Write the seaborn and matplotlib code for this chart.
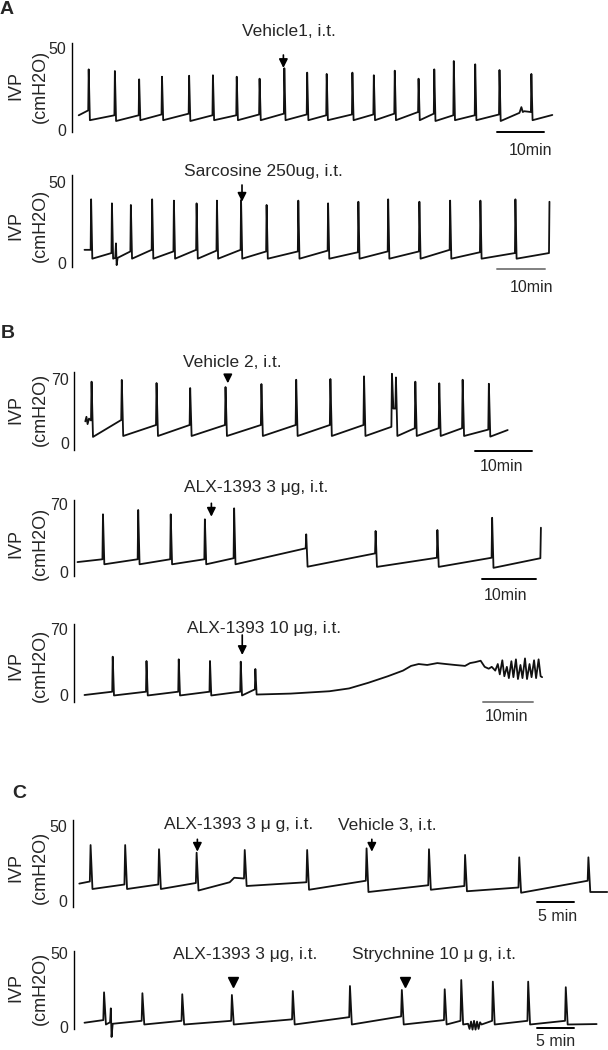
import matplotlib
matplotlib.use('Agg')
import numpy as np
import pandas as pd
import seaborn as sns
import matplotlib.pyplot as plt

# ---- data (time in min, pressure in cmH2O) ----
# A1: vehicle 1
a1_start = 9.0
a1_void_t = [2.0, 7.5, 12.6, 17.4, 23.1, 28.1, 33.1, 37.9, 43.1, 47.9, 52.0, 57.4, 61.9, 66.3, 71.3, 74.6, 78.7, 83.2, 88.3, 95.0]
a1_pre = [12, 9, 9, 9.5, 10, 9, 9, 9.5, 10, 9.5, 9, 9.5, 9.5, 10, 11, 10, 9, 9, 9.5, 11]
a1_peak = [37.1, 36.1, 31.0, 32.6, 33.2, 33.5, 32.6, 31.4, 37.8, 35.1, 34.3, 35.1, 33.5, 36.3, 31.4, 37.1, 42.2, 40.2, 36.7, 34.3]
a1_trough = [6, 5.5, 6, 6, 5.5, 6, 6, 6, 6, 6, 6, 6, 6, 6, 6, 5.5, 6, 6, 5.5, 6]
a1_extra_t = [92.6, 93.0, 93.3, 93.6]
a1_extra_v = [10.5, 14.0, 11.0, 11.5]
a1_end = (99.5, 9.2)
a1_inject = [43.0]

# A2: sarcosine 250ug
a2_start = 8.0
a2_void_t = [1.3, 5.7, 9.7, 14.2, 18.8, 23.6, 27.9, 33.0, 38.4, 45.1, 51.4, 57.8, 64.1, 70.7, 77.2, 83.6, 91.0, 98.2]
a2_pre = [8, 6, 7, 8, 7, 8, 7.5, 8, 7, 7, 7.5, 6.5, 7, 7, 8, 6.5, 6, 6]
a2_peak = [39.4, 36.9, 35.9, 39.4, 38.6, 36.9, 38.6, 39.0, 35.9, 38.6, 36.9, 37.9, 39.4, 37.9, 38.6, 38.6, 39.4, 37.9]
a2_trough = [2.5] * 17
a2_extra_t = [6.5, 6.65, 6.8, 7.0]
a2_extra_v = [3.0, 12.0, -1.5, 3.0]
a2_end = None
a2_inject = [33.3]

# B1: vehicle 2
b1_start = 24.0
b1_void_t = [1.0, 6.3, 12.4, 18.3, 24.5, 30.8, 36.9, 42.9, 48.8, 53.7, 54.4, 57.8, 62.0, 66.1, 70.7]
b1_pre = [25, 25.5, 20, 20, 20, 20, 20, 20, 20, 18, 38, 16.5, 16.5, 16.5, 15]
b1_peak = [67.4, 69.3, 65.9, 60.4, 61.5, 64.8, 69.5, 70.3, 73.2, 76.0, 72.0, 67.4, 65.6, 69.5, 65.1]
b1_trough = [7, 8, 8, 8, 8, 8, 8, 8, 8, 38, 8, 8, 8, 8, 7.3]
b1_extra_t = [0.2, 0.4, 0.65]
b1_extra_v = [29, 21, 27]
b1_end = (74.1, 14.5)
b1_inject = [25.0]

# B2: ALX-1393 3 ug
b2_start = 10.0
b2_void_t = [4.6, 11.1, 17.1, 23.4, 28.8, 42.1, 54.9, 66.3, 76.4, 85.4]
b2_pre = [12.9, 12.9, 12.9, 12.9, 14, 24.3, 19, 14.5, 14.5, 14]
b2_peak = [59.6, 64.1, 59.6, 54.4, 65.8, 38.8, 42.3, 43.3, 56.0, 45.7]
b2_trough = [7.7, 7.7, 7.7, 7.7, 7.7, 5.2, 5.0, 5.0, 4.0]
b2_extra_t = []
b2_extra_v = []
b2_end = None
b2_inject = [24.7]

# B3: ALX-1393 10 ug
b3_start = 0.0
b3_void_t = [5.5, 12.2, 18.6, 24.8, 30.9, 33.8]
b3_pre = [3.5, 3.5, 3.5, 3.5, 3.5, 6.0]
b3_peak = [40.8, 36.2, 38.0, 36.2, 35.5, 27.7]
b3_trough = [-0.5, -0.5, -0.5, -0.5, -0.5, 0.5]
b3_extra_t = [40.9, 48.6, 52.5, 56.3, 60.2, 63.2, 64.8, 66.3, 68.0, 70.0, 71.7, 73.5, 75.5, 76.5, 77.5, 78.6, 79.4,
              80.2, 80.8, 81.5, 82.0, 82.4, 82.9, 83.3, 83.8, 84.2, 84.7, 85.1, 85.6, 86.0, 86.5, 86.9, 87.4,
              87.8, 88.3, 88.7, 89.2, 89.6, 90.1, 90.5]
b3_extra_v = [1.5, 4, 7, 13, 20, 26, 31, 33, 32, 34, 33, 32, 31, 34, 35, 36.5, 30,
              28, 30, 26, 33, 22, 37, 20, 30, 18, 36, 19, 38, 17, 32, 18, 39,
              17, 33, 19, 37, 18, 38, 20]
b3_end = (90.8, 19.0)
b3_inject = [31.3]

# C1: ALX-1393 3 ug then vehicle 3
c1_start = 11.6
c1_void_t = [1.4, 6.0, 10.5, 15.5, 21.9, 30.2, 38.1, 46.4, 51.2, 58.4, 67.6]
c1_pre = [13, 11, 11, 12, 15, 12.5, 13.5, 10.5, 10, 9, 13.5]
c1_peak = [37.3, 37.3, 34.5, 32.2, 34.0, 34.0, 35.1, 34.5, 30.7, 29.1, 29.1]
c1_trough = [8, 8, 8, 7, 10, 7.5, 6, 7.5, 6.5, 5.5, 6]
c1_extra_t = [20.0, 20.6]
c1_extra_v = [12.5, 15.5]
c1_end = (70.2, 6.0)
c1_inject = [15.7, 38.9]

# C2: ALX-1393 3 ug then strychnine 10 ug
c2_start = 2.7
c2_void_t = [2.5, 7.6, 12.9, 19.5, 27.6, 35.2, 42.1, 47.8, 50.0, 54.2, 58.9, 63.9]
c2_pre = [4.5, 4, 4, 4, 5, 6.5, 7, 4.5, 4, 4, 4, 4]
c2_peak = [23.4, 22.8, 22.1, 21.6, 24.3, 27.7, 25.0, 25.5, 31.8, 30.7, 30.7, 26.9]
c2_trough = [1.5] * 12
c2_extra_t = [3.4, 3.5, 3.6, 3.75, 51.0, 51.2, 51.4, 51.6, 51.8, 52.0, 52.2, 52.4, 52.6, 52.8]
c2_extra_v = [3.0, 12.5, -7.0, 2.0, 2.0, -1.5, 3.5, -2.0, 4.0, -2.0, 3.5, -1.5, 3.0, 1.5]
c2_end = (68.1, 1.8)
c2_inject = [19.8, 42.6]


def build_trace(start, void_t, pre, peak, trough, extra_t, extra_v, end):
    ts, vs = [0.0], [start]
    for i, t in enumerate(void_t):
        ts += [t, t + 0.1]
        vs += [pre[i], peak[i]]
        if i < len(trough):
            ts.append(t + 0.35)
            vs.append(trough[i])
    ts += list(extra_t)
    vs += list(extra_v)
    if end is not None:
        ts.append(end[0])
        vs.append(end[1])
    df = pd.DataFrame({'min': ts, 'ivp': vs})
    return df.sort_values('min', kind='stable').reset_index(drop=True)


# ---- layout (pixel positions in the 608x1050 figure) ----
W, H = 608, 1050
panels = [
    dict(data=build_trace(a1_start, a1_void_t, a1_pre, a1_peak, a1_trough, a1_extra_t, a1_extra_v, a1_end),
         inject=a1_inject, sx=72, top=43.3, bot=131.7, y0=130, yt=48.3, tv=50, t0=78.7, ppm=4.76,
         bar=(496.7, 132.3, 10, 'black'), barlabel=('10min', 530.7, 150),
         notes=[('Vehicle1, i.t.', 288.8, 31, 55, 68, 'arrow')], ivp_y=86, letter=('A', 7, 10)),
    dict(data=build_trace(a2_start, a2_void_t, a2_pre, a2_peak, a2_trough, a2_extra_t, a2_extra_v, a2_end),
         inject=a2_inject, sx=72, top=175, bot=267.3, y0=262.7, yt=182.3, tv=50, t0=84.5, ppm=4.73,
         bar=(497.3, 268.7, 10, '#808080'), barlabel=('10min', 531.8, 288),
         notes=[('Sarcosine 250ug, i.t.', 263.6, 171.7, 185, 201.7, 'arrow')], ivp_y=225.7, letter=None),
    dict(data=build_trace(b1_start, b1_void_t, b1_pre, b1_peak, b1_trough, b1_extra_t, b1_extra_v, b1_end),
         inject=b1_inject, sx=74.4, top=371.7, bot=450, y0=443.3, yt=379.3, tv=70, t0=85.3, ppm=5.7,
         bar=(474.8, 450.7, 10, 'black'), barlabel=('10min', 502, 466.7),
         notes=[('Vehicle 2, i.t.', 232.6, 362.7, 375, 383.3, 'arrow')], ivp_y=409, letter=('B', 8, 334)),
    dict(data=build_trace(b2_start, b2_void_t, b2_pre, b2_peak, b2_trough, b2_extra_t, b2_extra_v, b2_end),
         inject=b2_inject, sx=73.6, top=500, bot=576, y0=571.7, yt=504.3, tv=70, t0=77.5, ppm=5.42,
         bar=(481.8, 579, 10, 'black'), barlabel=('10min', 505.8, 595),
         notes=[('ALX-1393 3 μg, i.t.', 256.6, 487.3, 503.3, 516.7, 'arrow')], ivp_y=543, letter=None),
    dict(data=build_trace(b3_start, b3_void_t, b3_pre, b3_peak, b3_trough, b3_extra_t, b3_extra_v, b3_end),
         inject=b3_inject, sx=73.6, top=624, bot=701.7, y0=695, yt=629.3, tv=70, t0=84.5, ppm=5.04,
         bar=(482.6, 701.7, 10, '#808080'), barlabel=('10min', 507, 716.7),
         notes=[('ALX-1393 10 μg, i.t.', 264.3, 628.3, 635, 655, 'arrow')], ivp_y=665.7, letter=None),
    dict(data=build_trace(c1_start, c1_void_t, c1_pre, c1_peak, c1_trough, c1_extra_t, c1_extra_v, c1_end),
         inject=c1_inject, sx=72.7, top=820, bot=906.7, y0=901, yt=826, tv=50, t0=79.3, ppm=7.52,
         bar=(536.8, 901.7, 5, 'black'), barlabel=('5 min', 558, 916.7),
         notes=[('ALX-1393 3 μ g, i.t.', 238.4, 825, 839.3, 851.7, 'arrow'),
                ('Vehicle 3, i.t.', 387.6, 825, 839.3, 851.7, 'arrow')], ivp_y=867, letter=('C', 19, 793)),
    dict(data=build_trace(c2_start, c2_void_t, c2_pre, c2_peak, c2_trough, c2_extra_t, c2_extra_v, c2_end),
         inject=c2_inject, sx=73.6, top=950.7, bot=1029.3, y0=1026.7, yt=953.3, tv=50, t0=84.5, ppm=7.52,
         bar=(536.8, 1028, 5, 'black'), barlabel=('5 min', 556, 1041),
         notes=[('ALX-1393 3 μg, i.t.', 245, 955, 981.7, 981.7, 'tri'),
                ('Strychnine 10 μ g, i.t.', 434, 955, 981.7, 981.7, 'tri')], ivp_y=988, letter=None),
]

sns.set_style('white')
plt.rcParams['font.family'] = ['Liberation Sans', 'DejaVu Sans']

fig = plt.figure(figsize=(W / 100, H / 100), dpi=100)

for p in panels:
    ppu = (p['y0'] - p['yt']) / p['tv']
    dx = lambda xpx, p=p: (xpx - p['t0']) / p['ppm']
    dy = lambda ypx, p=p, ppu=ppu: (p['y0'] - ypx) / ppu
    ax = fig.add_axes([p['sx'] / W, 1 - p['bot'] / H, (W - p['sx']) / W, (p['bot'] - p['top']) / H])
    sns.lineplot(data=p['data'], x='min', y='ivp', ax=ax, color='#111111', lw=1.3,
                 sort=False, estimator=None, clip_on=False)
    ax.set_xlim(dx(p['sx']), dx(W))
    ax.set_ylim(dy(p['bot']), dy(p['top']))
    ax.set(xlabel='', ylabel='')
    ax.set_xticks([])
    ax.set_yticks([0, p['tv']])
    ax.set_yticklabels(['0', str(p['tv'])])
    ax.tick_params(axis='y', length=0, pad=4, labelsize=11.5)
    for s in ['top', 'right', 'bottom']:
        ax.spines[s].set_visible(False)
    ax.spines['left'].set_color('black')
    ax.spines['left'].set_linewidth(1.0)
    ax.patch.set_alpha(0)

    # scale bar
    bx, by, blen, bcol = p['bar']
    ax.plot([dx(bx), dx(bx) + blen], [dy(by), dy(by)], color=bcol, lw=1.4, clip_on=False)
    txt, cx, cy = p['barlabel']
    ax.text(dx(cx), dy(cy), txt, ha='center', va='center', fontsize=11.5)

    # injection annotations
    for (note, cx, cy, ay0, ay1, kind), tinj in zip(p['notes'], p['inject']):
        ax.text(dx(cx), dy(cy), note, ha='center', va='center', fontsize=12.5)
        if kind == 'arrow':
            ax.annotate('', xy=(tinj, dy(ay1)), xytext=(tinj, dy(ay0)),
                        arrowprops=dict(arrowstyle='-|>', color='black', lw=1.2,
                                        mutation_scale=13, shrinkA=0, shrinkB=0),
                        annotation_clip=False)
        else:
            ax.plot([tinj], [dy(ay0)], marker='v', color='black', ms=7, clip_on=False)

    # y label
    fig.text(16 / W, 1 - p['ivp_y'] / H, 'IVP', rotation=90, ha='center', va='center', fontsize=13)
    fig.text(40 / W, 1 - p['ivp_y'] / H, '(cmH2O)', rotation=90, ha='center', va='center', fontsize=13)

    if p['letter']:
        l, lx, ly = p['letter']
        fig.text(lx / W, 1 - ly / H, l, ha='center', va='center', fontsize=14, fontweight='bold')

fig.savefig('out.png', dpi=100, facecolor='white')
